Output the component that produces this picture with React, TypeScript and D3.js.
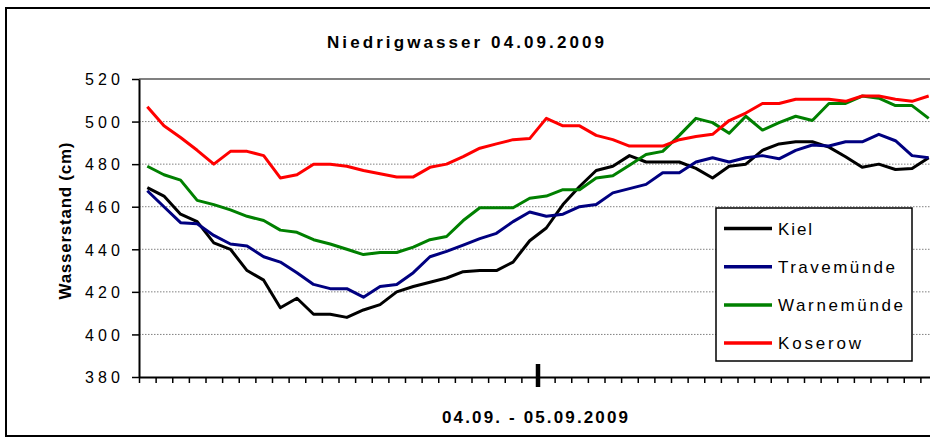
import React, { useRef, useEffect } from 'react';
import * as d3 from 'd3';

// half-hour steps, 04.09. 12:00 -> 05.09. 11:30
const times = [
  '12:00', '12:30', '13:00', '13:30', '14:00', '14:30', '15:00', '15:30',
  '16:00', '16:30', '17:00', '17:30', '18:00', '18:30', '19:00', '19:30',
  '20:00', '20:30', '21:00', '21:30', '22:00', '22:30', '23:00', '23:30',
  '00:00', '00:30', '01:00', '01:30', '02:00', '02:30', '03:00', '03:30',
  '04:00', '04:30', '05:00', '05:30', '06:00', '06:30', '07:00', '07:30',
  '08:00', '08:30', '09:00', '09:30', '10:00', '10:30', '11:00', '11:30',
];
const dayBreak = '00:00';

const kiel = [
  469, 465, 456.5, 453, 443, 440, 430, 425.5, 412.5, 417, 409.5, 409.5,
  408, 411.5, 414, 420, 422.5, 424.5, 426.5, 429.5, 430, 430, 434, 444,
  450, 461, 469.5, 477, 479, 484, 481, 481, 481, 478, 473.5, 479,
  480, 486.5, 489.5, 490.5, 490.5, 488, 483.5, 478.5, 480, 477.5, 478, 483,
];
const travemuende = [
  467.5, 460, 452.5, 452, 446.5, 442.5, 441.5, 436.5, 434, 429, 423.5, 421.5,
  421.5, 417.5, 422.5, 423.5, 429, 436.5, 439, 442, 445, 447.5, 453, 457.5,
  455.5, 456.5, 460, 461, 466.5, 468.5, 470.5, 476, 476, 481, 483, 481,
  483, 484, 482.5, 486.5, 489, 488.5, 490.5, 490.5, 494, 491, 484, 483,
];
const warnemuende = [
  479, 475, 472.5, 463, 461, 458.5, 455.5, 453.5, 449, 448, 444.5, 442.5,
  440, 437.5, 438.5, 438.5, 441, 444.5, 446, 453.5, 459.5, 459.5, 459.5, 464,
  465, 468, 468, 473.5, 474.5, 479.5, 484.5, 486, 493.5, 501.5, 499.5, 494.5,
  502.5, 496, 499.5, 502.5, 500.5, 508.5, 508.5, 512, 511, 507.5, 507.5, 501.5,
];
const koserow = [
  507, 498, 492.5, 486.5, 480, 486, 486, 484, 473.5, 475, 480, 480,
  479, 477, 475.5, 474, 474, 478.5, 480, 483.5, 487.5, 489.5, 491.5, 492,
  501.5, 498, 498, 493.5, 491.5, 488.5, 488.5, 488.5, 491.5, 493, 494, 500.5,
  504, 508.5, 508.5, 510.5, 510.5, 510.5, 509.5, 512, 512, 510.5, 509.5, 512,
];

const yTicks = [380, 400, 420, 440, 460, 480, 500, 520];

const series = [
  { name: 'Kiel', values: kiel, color: '#000000', lw: 34 },
  { name: 'Travemünde', values: travemuende, color: '#000080', lw: 117 },
  { name: 'Warnemünde', values: warnemuende, color: '#008000', lw: 125 },
  { name: 'Koserow', values: koserow, color: '#ff0000', lw: 83 },
];

const FONT = '"Liberation Sans", Arial, sans-serif';

const App = () => {
  const ref = useRef<SVGSVGElement>(null);

  useEffect(() => {
    const svg = d3.select(ref.current);
    svg.selectAll('*').remove();

    const left = 139, top = 79, plotW = 798, plotH = 298;

    // outer chart frame (right edge is cut off in the picture)
    svg.append('rect')
      .attr('x', 6).attr('y', 8)
      .attr('width', 1000).attr('height', 428)
      .attr('fill', '#fff').attr('stroke', '#000').attr('stroke-width', 2);

    svg.append('text')
      .attr('x', 465.5).attr('y', 47.5)
      .attr('text-anchor', 'middle')
      .attr('font-family', FONT).attr('font-weight', 'bold').attr('font-size', 17)
      .attr('textLength', 277)
      .text('Niedrigwasser 04.09.2009');

    const g = svg.append('g').attr('transform', `translate(${left},${top})`);

    const x = d3.scaleLinear().domain([0, times.length]).range([0, plotW]);
    const y = d3.scaleLinear().domain([380, 520]).range([plotH, 0]);

    // grid
    g.selectAll('.grid')
      .data(yTicks.filter((t) => t > 380 && t < 520))
      .join('line')
      .attr('x1', 0).attr('x2', plotW)
      .attr('y1', (d) => y(d)).attr('y2', (d) => y(d))
      .attr('stroke', '#808080').attr('stroke-width', 1)
      .attr('stroke-dasharray', '1.5,1.5');

    g.append('line')
      .attr('x1', 0).attr('x2', plotW)
      .attr('y1', y(520)).attr('y2', y(520))
      .attr('stroke', '#808080').attr('stroke-width', 2);

    // y axis
    const yAxis = d3.axisLeft(y).tickValues(yTicks).tickSize(7).tickSizeOuter(0).tickPadding(12);
    const ya = g.append('g').call(yAxis);
    ya.select('.domain').attr('stroke', '#000').attr('stroke-width', 2);
    ya.selectAll('.tick line').attr('stroke', '#000').attr('stroke-width', 1.5);
    ya.selectAll('.tick text')
      .attr('font-family', FONT).attr('font-size', 16).attr('fill', '#000')
      .attr('textLength', 35).attr('dy', '0.36em');

    // x axis: ticks on category boundaries, no labels
    const xAxis = d3.axisBottom(x)
      .tickValues(d3.range(times.length + 1))
      .tickSize(6).tickSizeOuter(0).tickFormat(() => '');
    const xa = g.append('g').attr('transform', `translate(0,${plotH})`).call(xAxis);
    xa.select('.domain').attr('stroke', '#000').attr('stroke-width', 2);
    xa.selectAll('.tick line').attr('stroke', '#000').attr('stroke-width', 1.5);

    const bi = times.indexOf(dayBreak);
    g.append('line')
      .attr('x1', x(bi)).attr('x2', x(bi))
      .attr('y1', plotH - 13).attr('y2', plotH + 10)
      .attr('stroke', '#000').attr('stroke-width', 4.5);

    // lines
    const line = d3.line<number>()
      .x((d, i) => x(i + 0.5))
      .y((d) => y(d));

    g.selectAll('.series')
      .data(series)
      .join('path')
      .attr('d', (s) => line(s.values))
      .attr('fill', 'none')
      .attr('stroke', (s) => s.color)
      .attr('stroke-width', 3)
      .attr('stroke-linejoin', 'round');

    // axis titles
    svg.append('text')
      .attr('transform', 'translate(71,221) rotate(-90)')
      .attr('text-anchor', 'middle')
      .attr('font-family', FONT).attr('font-weight', 'bold').attr('font-size', 17)
      .attr('textLength', 157)
      .text('Wasserstand (cm)');

    svg.append('text')
      .attr('x', 535).attr('y', 423)
      .attr('text-anchor', 'middle')
      .attr('font-family', FONT).attr('font-weight', 'bold').attr('font-size', 17)
      .attr('textLength', 186)
      .text('04.09. - 05.09.2009');

    // legend
    const lg = svg.append('g').attr('transform', 'translate(716,208)');
    lg.append('rect')
      .attr('width', 196).attr('height', 153)
      .attr('fill', '#fff').attr('stroke', '#000').attr('stroke-width', 1.5);
    const rows = lg.selectAll('.row')
      .data(series)
      .join('g')
      .attr('transform', (d, i) => `translate(0,${20.5 + i * 38.2})`);
    rows.append('line')
      .attr('x1', 8).attr('x2', 56)
      .attr('stroke', (d) => d.color).attr('stroke-width', 3.5);
    rows.append('text')
      .attr('x', 62).attr('dy', '0.36em')
      .attr('font-family', FONT).attr('font-size', 17)
      .attr('textLength', (d) => d.lw)
      .text((d) => d.name);
  }, []);

  return (
    <svg ref={ref} width={930} height={437}
      style={{ position: 'absolute', left: 0, top: 0, display: 'block', background: '#fff' }} />
  );
};

export default App;
